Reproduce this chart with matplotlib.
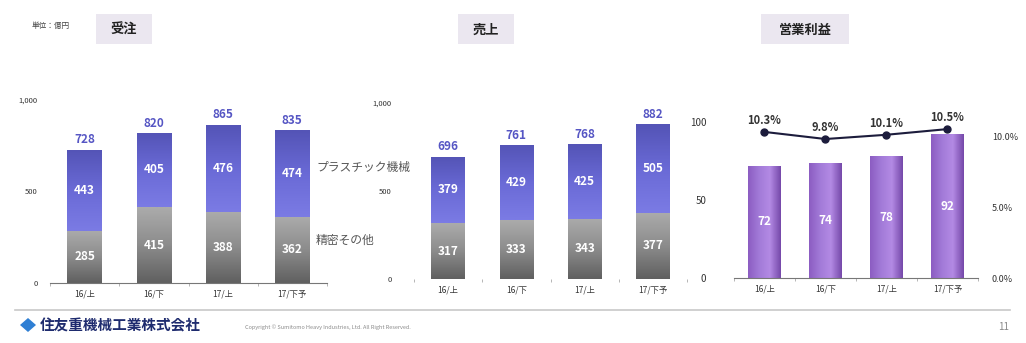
import numpy as np
import matplotlib
matplotlib.use('Agg')
import matplotlib.pyplot as plt
from matplotlib.colors import LinearSegmentedColormap
from matplotlib.patches import Rectangle, Polygon

plt.rcParams['font.family'] = ['Noto Sans CJK JP', 'DejaVu Sans']

# 期間ラベル
periods = ['16/上', '16/下', '17/上', '17/下予']

# 受注（億円）
orders_plastic = [443, 405, 476, 474]
orders_precision = [285, 415, 388, 362]
orders_total = [728, 820, 865, 835]

# 売上（億円）
sales_plastic = [379, 429, 425, 505]
sales_precision = [317, 333, 343, 377]
sales_total = [696, 761, 768, 882]

# 営業利益（億円）と利益率（%）
profit = [72, 74, 78, 92]
margin = [10.3, 9.8, 10.1, 10.5]

W, H = 1026, 343
fig = plt.figure(figsize=(W / 100, H / 100), dpi=100)
fig.patch.set_facecolor('white')

BLUE = ['#5454b6', '#6a6ad6', '#7b7be4']
GRAY = ['#ababab', '#8c8c8c', '#606060']
PURPLE = ['#8c5dc2', '#a27ad8', '#b38ae4', '#7649aa']
TEXT = '#333333'
TOTAL_COLOR = '#5656c4'


def px_axes(left, right, zero_y, top_y):
    # ピクセル座標で軸の位置を決める
    return fig.add_axes([left / W, (H - zero_y) / H, (right - left) / W, (zero_y - top_y) / H])


def fig_text(x, y, s, **kw):
    fig.text(x / W, 1 - y / H, s, **kw)


def shade(ax, bars, colors, horizontal=False):
    # 棒をグラデーションで塗る
    cmap = LinearSegmentedColormap.from_list('shade', colors)
    grad = np.linspace(0, 1, 64)
    grad = grad.reshape(1, -1) if horizontal else grad.reshape(-1, 1)
    for b in bars:
        x0, y0 = b.get_x(), b.get_y()
        im = ax.imshow(grad, cmap=cmap, origin='upper', aspect='auto',
                       extent=(x0, x0 + b.get_width(), y0, y0 + b.get_height()), zorder=2)
        im.set_clip_path(b)


def style_axes(ax, show_baseline=True):
    for side in ['top', 'right', 'left']:
        ax.spines[side].set_visible(False)
    ax.spines['bottom'].set_visible(show_baseline)
    ax.spines['bottom'].set_color('#777777')
    ax.spines['bottom'].set_linewidth(0.8)
    ax.set_xlim(-0.5, 3.5)
    ax.set_xticks(range(4))
    ax.set_xticklabels(periods, fontsize=6, color=TEXT)
    ax.tick_params(axis='x', length=0, pad=5)
    ax.set_xticks(np.arange(-0.5, 4.0, 1.0), minor=True)
    ax.tick_params(axis='x', which='minor', length=2, color='#aaaaaa')
    ax.tick_params(axis='y', length=0, labelsize=5.5, labelcolor=TEXT)
    ax.set_facecolor('none')


def stacked(ax, plastic, precision, total, width):
    x = np.arange(len(periods))
    low = ax.bar(x, precision, width=width, color='none', zorder=1)
    high = ax.bar(x, plastic, width=width, bottom=precision, color='none', zorder=1)
    shade(ax, low, GRAY)
    shade(ax, high, BLUE)
    for i in range(len(x)):
        ax.text(x[i], precision[i] / 2, str(precision[i]), ha='center', va='center',
                color='white', fontsize=8.5, fontweight='bold', zorder=3)
        ax.text(x[i], precision[i] + plastic[i] / 2, str(plastic[i]), ha='center', va='center',
                color='white', fontsize=8.5, fontweight='bold', zorder=3)
        ax.text(x[i], total[i] + 18, str(total[i]), ha='center', va='bottom',
                color=TOTAL_COLOR, fontsize=8.5, fontweight='bold', zorder=3)
    ax.set_ylim(0, 1000)
    ax.set_yticks([0, 500, 1000])
    ax.set_yticklabels(['0', '500', '1,000'])


# 受注
ax1 = px_axes(50, 327, 283, 100)
stacked(ax1, orders_plastic, orders_precision, orders_total, 0.5)
style_axes(ax1)
ax1.tick_params(axis='y', pad=9)

# 売上
ax2 = px_axes(414, 687, 279, 103)
stacked(ax2, sales_plastic, sales_precision, sales_total, 0.49)
style_axes(ax2, show_baseline=False)
ax2.tick_params(axis='y', pad=16)

# 営業利益
ax3 = px_axes(734, 978, 278, 122)
x = np.arange(len(periods))
pbars = ax3.bar(x, profit, width=0.54, color='none', zorder=1)
shade(ax3, pbars, PURPLE, horizontal=True)
for i, v in enumerate(profit):
    ax3.text(x[i], v / 2, str(v), ha='center', va='center', color='white',
             fontsize=8.5, fontweight='bold', zorder=3)
ax3.set_ylim(0, 100)
ax3.set_yticks([0, 50, 100])
style_axes(ax3)
ax3.tick_params(axis='y', pad=20, labelsize=7)

ax4 = ax3.twinx()
ax4.plot(x, np.array(margin) / 100, color='#1c1c3c', lw=1.5, marker='o',
         markersize=5, zorder=4)
for i, m in enumerate(margin):
    ax4.text(x[i], m / 100 + 0.0035, f'{m:.1f}%', ha='center', va='bottom',
             color=TEXT, fontsize=8, fontweight='bold')
ax4.set_ylim(0, 0.11)
ax4.set_yticks([0, 0.05, 0.10])
ax4.set_yticklabels(['0.0%', '5.0%', '10.0%'])
ax4.tick_params(axis='y', length=0, pad=10, labelsize=6.5, labelcolor=TEXT)
for side in ax4.spines:
    ax4.spines[side].set_visible(False)

# 見出し
for cx, title, half in [(124, '受注', 28), (486, '売上', 28), (805, '営業利益', 44)]:
    fig.patches.append(Rectangle(((cx - half) / W, 1 - 44 / H), 2 * half / W, 30 / H,
                                 transform=fig.transFigure, facecolor='#ebe7f0',
                                 edgecolor='none', zorder=0))
    fig_text(cx, 30, title, ha='center', va='center', fontsize=9.5,
             fontweight='bold', color='#222222')
fig_text(32, 26, '単位：億円', ha='left', va='center', fontsize=5.5, color='#444444')

# 凡例代わりの注記
fig_text(316, 168, 'プラスチック機械', ha='left', va='center', fontsize=8.5, color='#555555')
fig_text(316, 240, '精密その他', ha='left', va='center', fontsize=8.5, color='#555555')

# フッター
fig.add_artist(plt.Line2D([15 / W, 1010 / W], [1 - 310 / H, 1 - 310 / H],
                          color='#c8c8c8', lw=1.2))
logo = [(20, 325), (28, 318), (36, 325), (28, 332)]
fig.patches.append(Polygon([(px / W, 1 - py / H) for px, py in logo], closed=True,
                           transform=fig.transFigure, facecolor='#2f7fd4', edgecolor='none'))
fig_text(40, 325, '住友重機械工業株式会社', ha='left', va='center', fontsize=10.5,
         fontweight='bold', color='#1e2b6e')
fig_text(245, 327, 'Copyright © Sumitomo Heavy Industries, Ltd. All Right Reserved.',
         ha='left', va='center', fontsize=4.0, color='#8a8a8a')
fig_text(1004, 327, '11', ha='center', va='center', fontsize=7, color='#888888')

fig.savefig('out.png', dpi=100, facecolor='white')
